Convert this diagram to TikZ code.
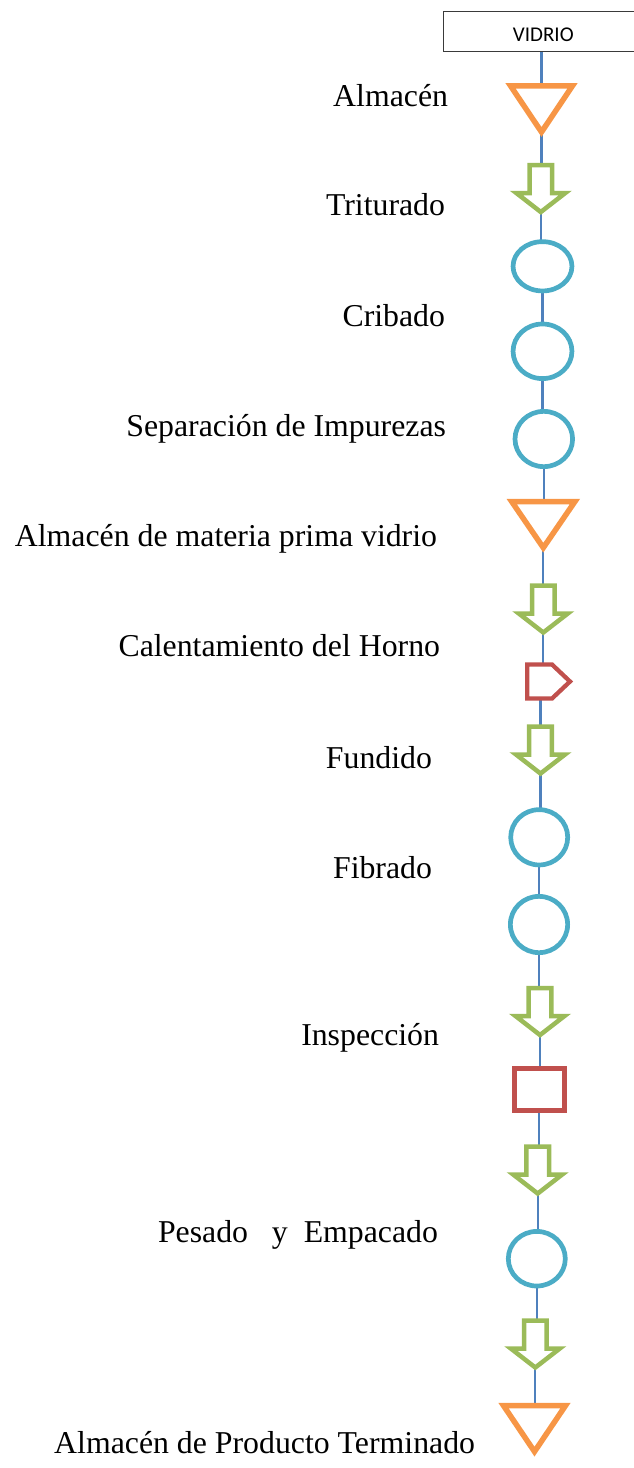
\documentclass[tikz,border=0pt]{standalone}
\usepackage{fontspec}
\setmainfont{Liberation Serif}
\newfontfamily\calibfont{Carlito}
\usetikzlibrary{calc,backgrounds,shapes.geometric}
\definecolor{cOrange}{HTML}{F79646}
\definecolor{cGreen}{HTML}{9BBB59}
\definecolor{cCyan}{HTML}{4BACC6}
\definecolor{cRed}{HTML}{C0504D}
\definecolor{cBlue}{HTML}{4F81BD}
\definecolor{cBox}{HTML}{3A3A3A}
\begin{document}
\begin{tikzpicture}[x=1pt,y=-1pt,
  frame/.style 2 args={inner sep=0pt,outer sep=0pt,minimum width=#1,minimum height=#2},
  tri/.style={draw=cOrange,line width=5.5pt,line join=miter},
  arr/.style={draw=cGreen,line width=4.5pt,line join=miter},
  oval/.style 2 args={ellipse,draw=cCyan,line width=4.7pt,inner sep=0pt,outer sep=0pt,minimum width=#1,minimum height=#2},
  pent/.style={draw=cRed,line width=4.3pt,line join=miter},
  sq/.style={draw=cRed,line width=4.8pt,inner sep=0pt,outer sep=0pt,minimum width=50,minimum height=42},
  conn/.style={draw=cBlue,line width=2.2pt},
  lbl/.style={anchor=base east,inner sep=0pt,outer sep=0pt,font=\fontsize{31.8}{38}\selectfont}
]
\useasboundingbox (0,0) rectangle (634,1468);
\clip (0,0) rectangle (634,1468);

% title box
\node[draw=cBox,line width=1.3pt,inner sep=0pt,outer sep=0pt,minimum width=200,minimum height=40,
      text height=20.7pt,text depth=0pt,font=\calibfont\fontsize{21}{25}\selectfont] (v) at (543.3,31.35) {VIDRIO};

% shapes
\node[frame={62}{46.25}] (t1) at (541.5,108.9) {};
\draw[tri] (t1.north west) -- (t1.north east) -- (t1.south) -- cycle;

\node[frame={49}{47}] (a1) at (540.8,188.5) {};
\node[oval={58.9}{49.3}] (c1) at (542.5,266.3) {};
\node[oval={58.9}{54.6}] (c2) at (542.5,351.3) {};
\node[oval={57.6}{55.3}] (c3) at (543.8,439) {};

\node[frame={63}{46}] (t2) at (543.3,524.7) {};
\draw[tri] (t2.north west) -- (t2.north east) -- (t2.south) -- cycle;

\node[frame={49}{47}] (a2) at (543.3,609) {};
\node[frame={42.8}{34}] (d) at (548.6,681.5) {};
\draw[pent] (d.north west) -- ($(d.north west)+(24.8,0)$) -- (d.east) -- ($(d.south west)+(24.8,0)$) -- (d.south west) -- cycle;

\node[frame={49}{47}] (a3) at (540.5,750) {};
\node[oval={57}{55.3}] (c4) at (539.2,837.3) {};
\node[oval={57.3}{56.3}] (c5) at (539,924.5) {};
\node[frame={49}{47}] (a4) at (540,1011.5) {};
\node[sq] (r) at (539.2,1089.2) {};
\node[frame={49}{47}] (a5) at (537.7,1170) {};
\node[oval={57}{54.6}] (c6) at (536.8,1258.7) {};
\node[frame={49}{47}] (a6) at (535.3,1344) {};

\node[frame={62}{46}] (t3) at (534.5,1428.6) {};
\draw[tri] (t3.north west) -- (t3.north east) -- (t3.south) -- cycle;

% block arrows
\foreach \a in {a1,a2,a3,a4,a5,a6}{
  \draw[arr] ($(\a.north)+(-11.3,0)$) -- ($(\a.north)+(11.3,0)$) -- ($(\a.north)+(11.3,28)$)
    -- ($(\a.north east)+(0,28)$) -- (\a.south) -- ($(\a.north west)+(0,28)$)
    -- ($(\a.north)+(-11.3,28)$) -- cycle;
}

% connectors
\begin{scope}[on background layer]
\draw[conn] (t1.north |- v.south) -- (t1.north);
\draw[conn] (t1.south) -- (t1.south |- a1.north);
\draw[conn] (a1.south) -- (a1.south |- c1.north);
\draw[conn] (c1.south) -- (c1.south |- c2.north);
\draw[conn] (c2.south) -- (c2.south |- c3.north);
\draw[conn] (c3.south) -- (c3.south |- t2.north);
\draw[conn] (t2.south) -- (t2.south |- a2.north);
\draw[conn] (a2.south) -- (a2.south |- d.north);
\draw[conn] (a3.north |- d.south) -- (a3.north);
\draw[conn] (a3.south) -- (a3.south |- c4.north);
\draw[conn] (c4.south) -- (c4.south |- c5.north);
\draw[conn] (c5.south) -- (c5.south |- a4.north);
\draw[conn] (a4.south) -- (a4.south |- r.north);
\draw[conn] (r.south) -- (r.south |- a5.north);
\draw[conn] (a5.south) -- (a5.south |- c6.north);
\draw[conn] (c6.south) -- (c6.south |- a6.north);
\draw[conn] (a6.south) -- (a6.south |- t3.north);
\end{scope}

% labels
\node[lbl] (l1) at (448,106) {Almacén};
\node[lbl] (l2) at (445,215) {Triturado};
\node[lbl] (l3) at (445,326) {Cribado};
\node[lbl] (l4) at (446,436) {Separación de Impurezas};
\node[lbl] (l5) at (437,546) {Almacén de materia prima vidrio};
\node[lbl] (l6) at (440,656.7) {Calentamiento del Horno};
\node[lbl] (l7) at (432,768.3) {Fundido};
\node[lbl] (l8) at (432,878.3) {Fibrado};
\node[lbl] (l9) at (439,1045) {Inspección};
\node[lbl] (l10) at (438,1242.7) {Pesado\ \ \ y\ \ Empacado};
\node[lbl] (l11) at (475,1453.3) {Almacén de Producto Terminado};
\end{tikzpicture}
\end{document}
